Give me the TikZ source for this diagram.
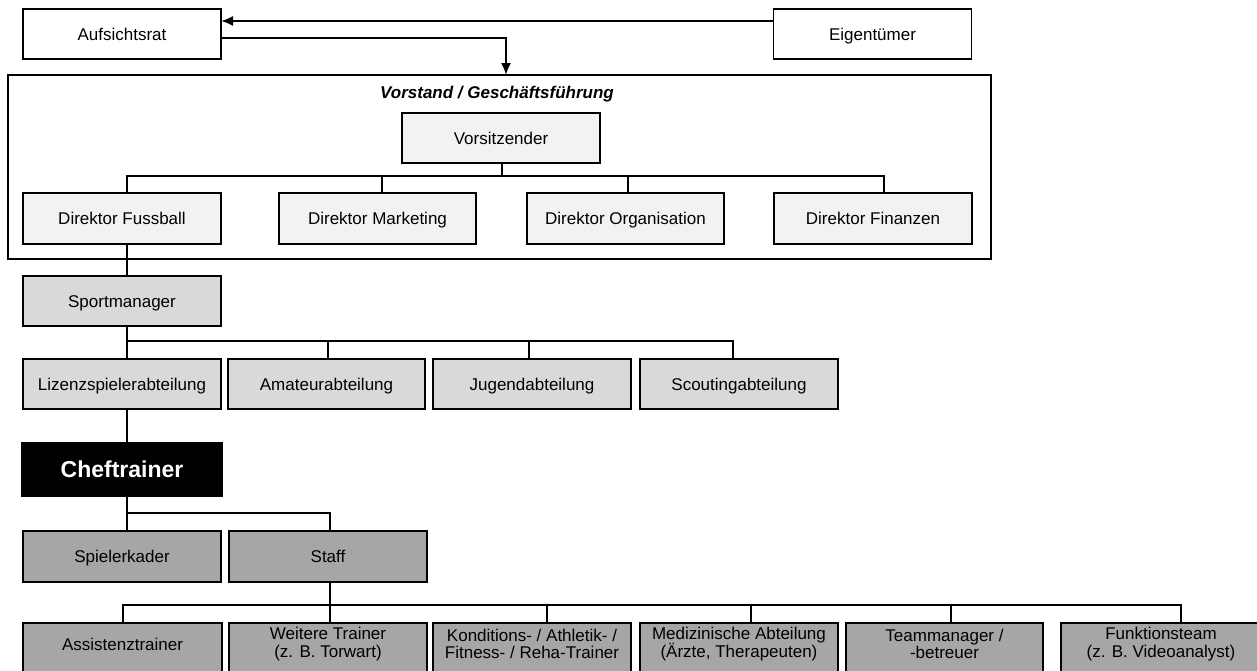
\documentclass[tikz,border=0pt]{standalone}
\usepackage{fontspec}
\setmainfont{Liberation Sans}
\usetikzlibrary{arrows.meta}
\definecolor{lvlA}{HTML}{F2F2F2}
\definecolor{lvlB}{HTML}{D9D9D9}
\definecolor{lvlC}{HTML}{A6A6A6}
\begin{document}
\begin{tikzpicture}[x=1pt,y=-1pt,
  box/.style={draw, line width=1.5pt, minimum width=198pt, minimum height=50pt,
    inner sep=0pt, outer sep=0pt, align=center, text height=12.2pt, text depth=0pt,
    font=\fontsize{17}{18}\selectfont},
  boxA/.style={box, fill=lvlA},
  boxB/.style={box, fill=lvlB},
  boxC/.style={box, fill=lvlC},
  lbl/.style={inner sep=0pt, align=center, font=\fontsize{17}{17.5}\selectfont},
  conn/.style={line width=1.4pt},
  arr/.style={line width=2pt, -{Latex[length=12pt,width=10pt]}}]
\clip (0,0) rectangle (1257,670);
\fill[white] (0,0) rectangle (1257,670);

% owners and supervisory board
\node[box, fill=white] (aufs) at (122,34) {Aufsichtsrat};
\node[box, fill=white] (eig) at (872.5,34) {Eigentümer};

% executive board frame
\node[draw, line width=1.8pt, minimum width=983pt, minimum height=184pt,
  inner sep=0pt, outer sep=0pt] (vorstand) at (499.5,167) {};
\node[inner sep=0pt, text height=12.2pt, text depth=0pt,
  font=\fontsize{17}{18}\selectfont\bfseries\itshape] (vtitle) at (497,92) {Vorstand / Geschäftsführung};

\node[boxA] (vors) at (501,138) {Vorsitzender};
\node[boxA, minimum height=51pt] (dfuss) at (122,218.5) {Direktor Fussball};
\node[boxA, minimum height=51pt, minimum width=197pt] (dmark) at (377.5,218.5) {Direktor Marketing};
\node[boxA, minimum height=51pt, minimum width=197pt] (dorg) at (625.5,218.5) {Direktor Organisation};
\node[boxA, minimum height=51pt] (dfin) at (873,218.5) {Direktor Finanzen};

% sports management
\node[boxB] (sport) at (122,301) {Sportmanager};
\node[boxB] (liz) at (122,384) {Lizenzspielerabteilung};
\node[boxB, minimum width=197pt] (ama) at (326.5,384) {Amateurabteilung};
\node[boxB] (jug) at (532,384) {Jugendabteilung};
\node[boxB] (scout) at (739,384) {Scoutingabteilung};

% head coach
\node[draw, fill=black, text=white, line width=1.5pt, minimum width=200pt,
  minimum height=53pt, inner sep=0pt, outer sep=0pt, text height=16.5pt, text depth=0pt,
  font=\fontsize{23}{25}\selectfont\bfseries] (chef) at (122,469.5) {Cheftrainer};

\node[boxC, minimum height=51pt] (spiel) at (122,556.5) {Spielerkader};
\node[boxC, minimum height=51pt] (staff) at (328,556.5) {Staff};

% staff units
\node[boxC, minimum width=199pt] (assist) at (122.5,648) {};
\node[boxC] (weit) at (328,648) {};
\node[boxC] (kond) at (532,648) {};
\node[boxC] (med) at (739,648) {};
\node[boxC, minimum width=197pt] (team) at (944.5,648) {};
\node[boxC, minimum width=200pt] (funk) at (1161,648) {};
\node[lbl] (tassist) at ([yshift=4pt]assist.center) {Assistenztrainer};
\node[lbl] (tweit) at ([yshift=4pt]weit.center) {Weitere Trainer\\(z. B. Torwart)};
\node[lbl] (tkond) at ([yshift=4pt]kond.center) {Konditions- / Athletik- /\\Fitness- / Reha-Trainer};
\node[lbl] (tmed) at ([yshift=4pt]med.center) {Medizinische Abteilung\\(Ärzte, Therapeuten)};
\node[lbl] (tteam) at ([yshift=4pt]team.center) {Teammanager /\\-betreuer};
\node[lbl] (tfunk) at ([yshift=4pt]funk.center) {Funktionsteam\\(z. B. Videoanalyst)};

% bus heights
\coordinate (busV) at (0,176);
\coordinate (busS) at (0,341);
\coordinate (busC) at (0,513);
\coordinate (busT) at (0,605);

% arrows between owners, board and executives
\draw[arr] ([yshift=13pt]eig.west) -- ([yshift=13pt]aufs.east);
\draw[arr] ([yshift=-4pt]aufs.east) -| ([xshift=6.5pt]vorstand.north);

% executive connectors
\coordinate (pVors) at ([xshift=1pt]vors.south);
\coordinate (pFuss) at ([xshift=5pt]dfuss.north);
\coordinate (pMark) at ([xshift=4.5pt]dmark.north);
\coordinate (pOrg) at ([xshift=2.5pt]dorg.north);
\coordinate (pFin) at ([xshift=11pt]dfin.north);
\draw[conn] (pVors) -- (pVors |- busV);
\draw[conn] (pFuss) |- (pFin |- busV) -- (pFin);
\draw[conn] (pMark |- busV) -- (pMark);
\draw[conn] (pOrg |- busV) -- (pOrg);

% sports connectors
\draw[conn] ([xshift=5pt]dfuss.south) -- ([xshift=5pt]sport.north);
\coordinate (pAma) at ([xshift=1.5pt]ama.north);
\coordinate (pJug) at ([xshift=-3pt]jug.north);
\coordinate (pScout) at ([xshift=-6pt]scout.north);
\draw[conn] ([xshift=5pt]sport.south) -- ([xshift=5pt]liz.north);
\draw[conn] ([xshift=5pt]sport.south |- busS) -| (pScout);
\draw[conn] (pAma |- busS) -- (pAma);
\draw[conn] (pJug |- busS) -- (pJug);
\draw[conn] ([xshift=5pt]liz.south) -- ([xshift=5pt]chef.north);

% team connectors
\coordinate (pStaff) at ([xshift=2pt]staff.north);
\draw[conn] ([xshift=5pt]chef.south) -- ([xshift=5pt]spiel.north);
\draw[conn] ([xshift=5pt]chef.south |- busC) -| (pStaff);
\coordinate (pAssist) at ([xshift=0.5pt]assist.north);
\coordinate (pWeit) at ([xshift=2pt]weit.north);
\coordinate (pKond) at ([xshift=15pt]kond.north);
\coordinate (pMed) at ([xshift=12pt]med.north);
\coordinate (pTeam) at ([xshift=6.5pt]team.north);
\coordinate (pFunk) at ([xshift=20pt]funk.north);
\draw[conn] ([xshift=2pt]staff.south) -- (pWeit);
\draw[conn] (pAssist) |- (pFunk |- busT) -- (pFunk);
\draw[conn] (pKond |- busT) -- (pKond);
\draw[conn] (pMed |- busT) -- (pMed);
\draw[conn] (pTeam |- busT) -- (pTeam);
\end{tikzpicture}
\end{document}
